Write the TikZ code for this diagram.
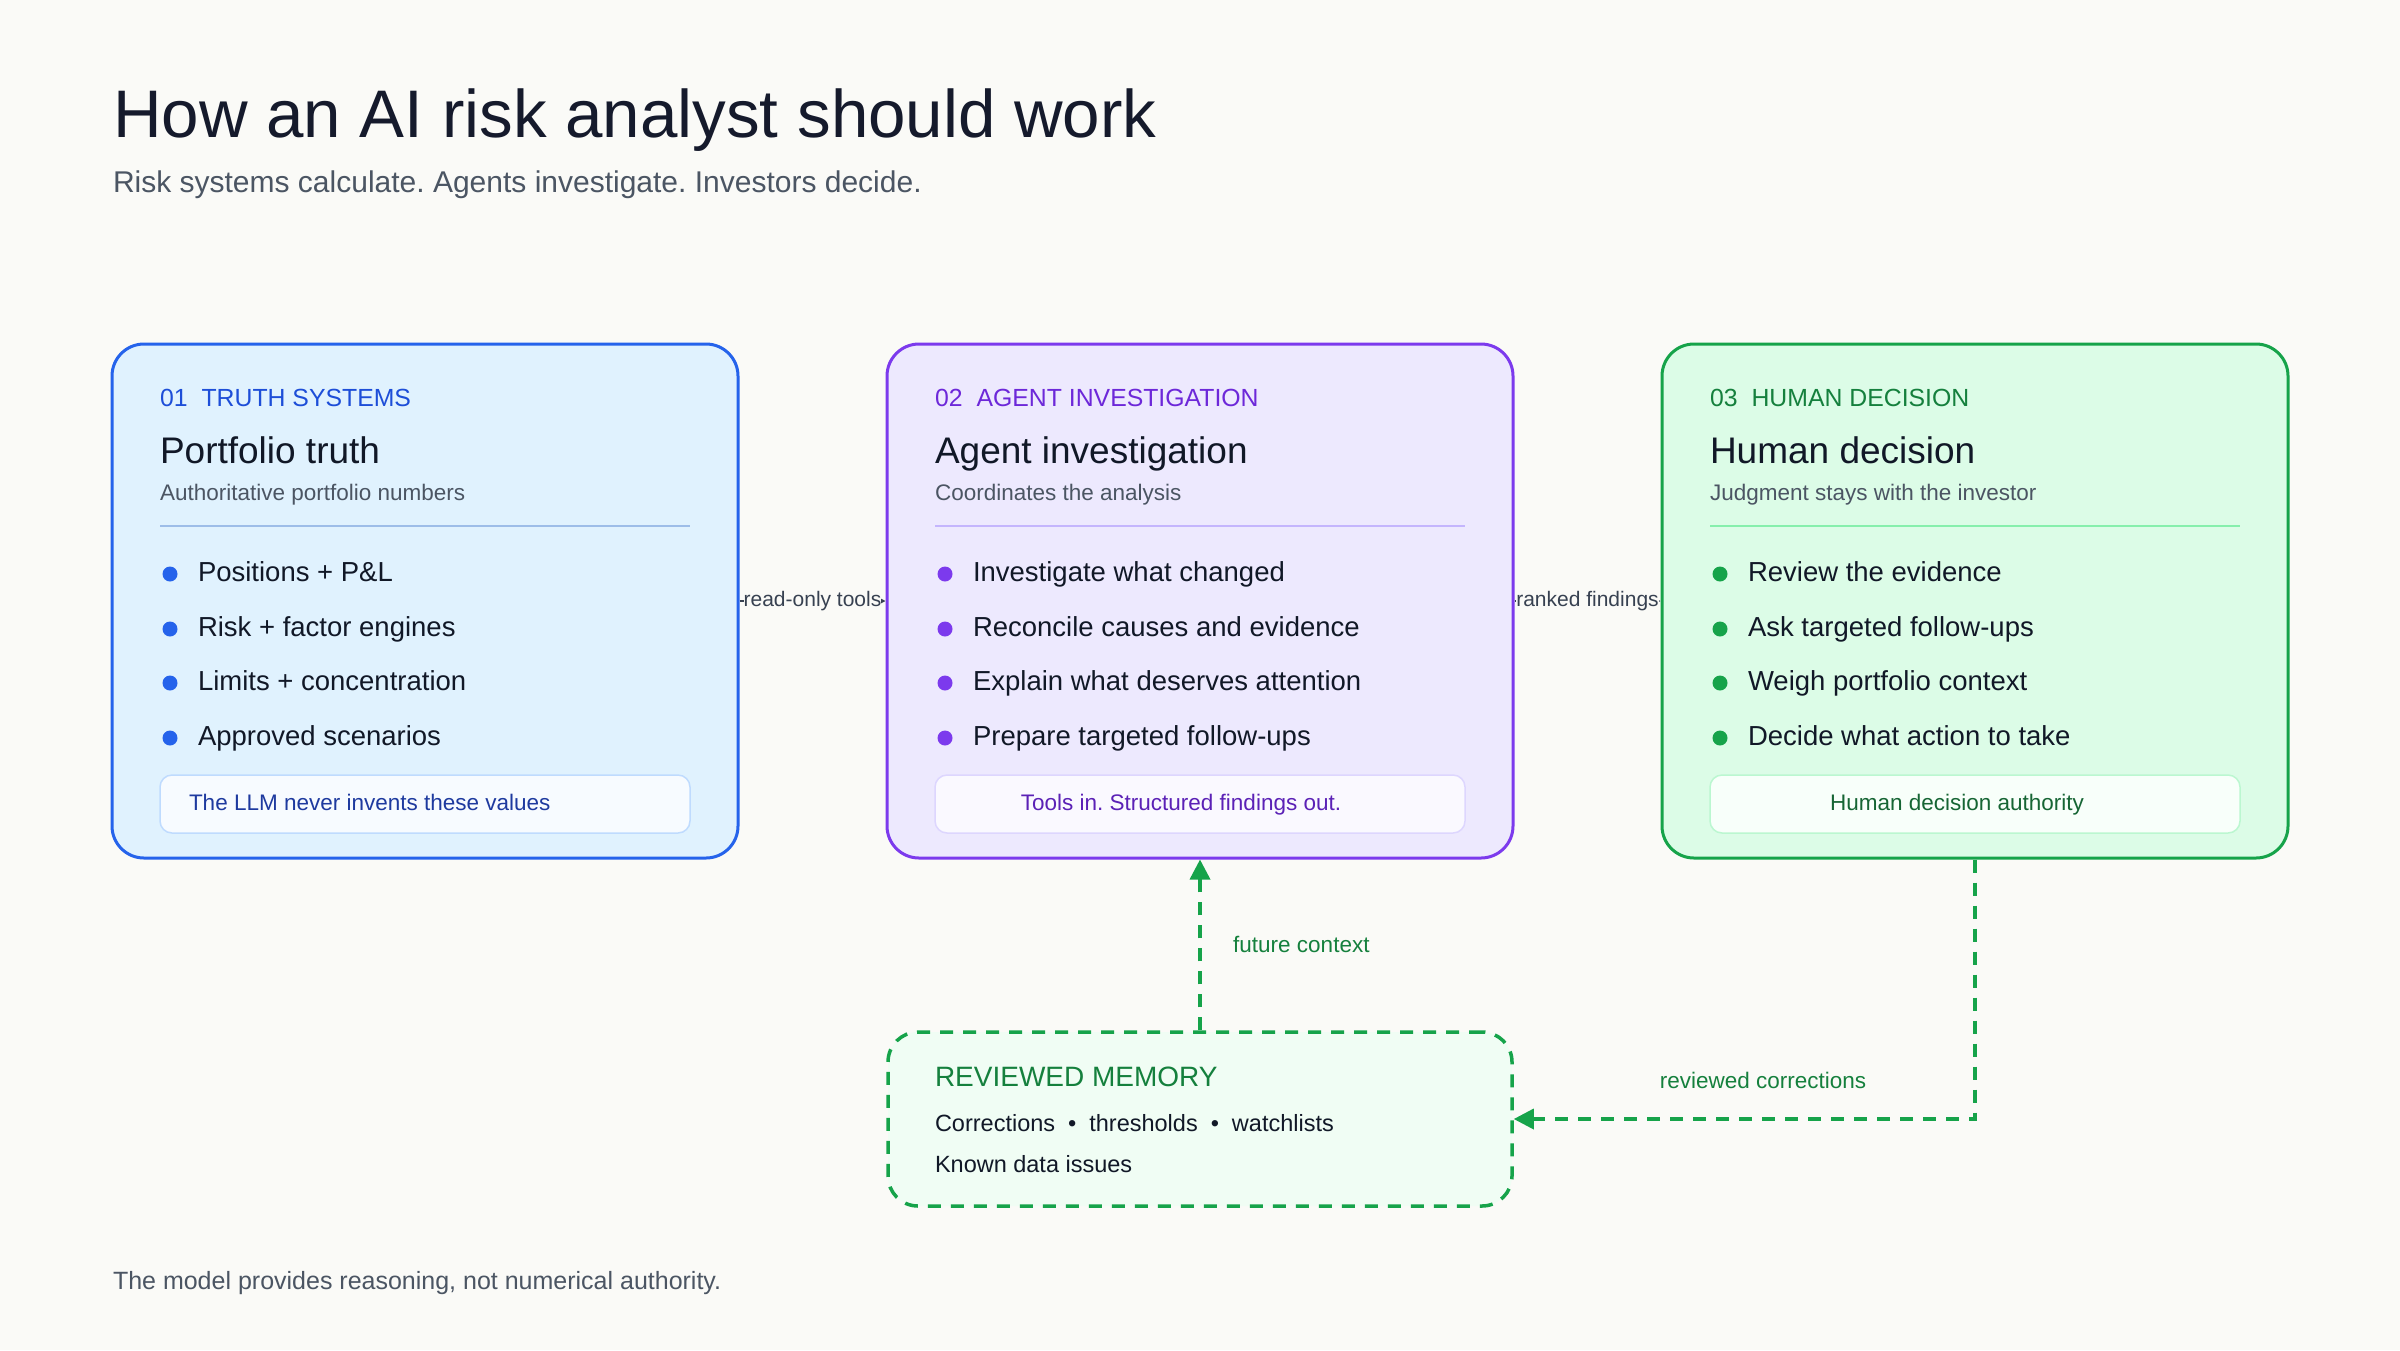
\documentclass[tikz,border=0pt]{standalone}
\usepackage{fontspec}
\setmainfont{Liberation Sans}
\usetikzlibrary{arrows.meta,calc}
\frenchspacing
\definecolor{bg}{HTML}{FAFAF7}
\definecolor{ink}{HTML}{111827}
\definecolor{titleink}{HTML}{151A2C}
\definecolor{grey}{HTML}{4B5563}
\definecolor{lab}{HTML}{374151}
% blue card
\definecolor{cA}{HTML}{2563EB}
\definecolor{fA}{HTML}{E0F2FE}
\definecolor{hA}{HTML}{1D4ED8}
\definecolor{dA}{HTML}{9DBDE8}
\definecolor{iA}{HTML}{BFDBFE}
\definecolor{ifA}{HTML}{F7FBFF}
\definecolor{tA}{HTML}{1E3A9F}
% purple card
\definecolor{cB}{HTML}{7C3AED}
\definecolor{fB}{HTML}{EDE9FE}
\definecolor{hB}{HTML}{6D28D9}
\definecolor{dB}{HTML}{C4B5FD}
\definecolor{iB}{HTML}{DDD6FE}
\definecolor{ifB}{HTML}{FAF9FF}
\definecolor{tB}{HTML}{5B21B6}
% green card
\definecolor{cC}{HTML}{16A34A}
\definecolor{fC}{HTML}{DCFCE7}
\definecolor{hC}{HTML}{15803D}
\definecolor{dC}{HTML}{86EFAC}
\definecolor{iC}{HTML}{BBF7D0}
\definecolor{ifC}{HTML}{F8FFFA}
\definecolor{tC}{HTML}{166534}
\definecolor{fM}{HTML}{F0FDF4}
\newcommand\fsz[1]{\fontsize{#1}{#1}\selectfont}
\newcommand\bul[5]{%
  \node[dotmark,fill=#4] (#1d) at (#2,#3-7) {};
  \node[itemtxt] (#1) at (#2+28,#3) {#5};}
\begin{document}
\begin{tikzpicture}[x=1pt,y=-1pt,
  card/.style 2 args={draw=#1,fill=#2,line width=3pt,rounded corners=32pt,
    minimum width=626pt,minimum height=514pt,inner sep=0pt},
  inbox/.style 2 args={draw=#1,fill=#2,line width=1.5pt,rounded corners=12pt,
    minimum width=530pt,minimum height=58pt,inner sep=0pt},
  txt/.style={anchor=base west,inner sep=0pt,outer sep=0pt},
  hdr/.style={txt,font=\fsz{24.8}},
  ttl/.style={txt,font=\fsz{37},text=ink},
  subt/.style={txt,font=\fsz{22.5},text=grey},
  itemtxt/.style={txt,font=\fsz{27.5},text=ink},
  dotmark/.style={circle,inner sep=0pt,minimum size=15pt,draw=none},
  conn/.style={draw=lab,line width=1.2pt,-{Triangle[length=6pt,width=6pt]}},
  conlab/.style={fill=bg,inner sep=0pt,font=\fsz{21},text=lab},
  greenarrow/.style={draw=cC,line width=3.5pt,dash pattern=on 13pt off 10pt,
    -{Triangle[length=20pt,width=20pt]}},
  glab/.style={inner sep=0pt,font=\fsz{22.5},text=hC},
]
\fill[bg] (0,0) rectangle (2400,1350);
\useasboundingbox (0,0) rectangle (2400,1350);

% title
\node[txt,font=\fsz{67.3},text=titleink] (title) at (113,137) {How an AI risk analyst should work};
\node[txt,font=\fsz{30},text=grey] (subtitle) at (113,192) {Risk systems calculate. Agents investigate. Investors decide.};

% card 1
\node[card={cA}{fA}] (b1) at (425,601) {};
\node[hdr,text=hA] (b1h) at (160,406) {01\hspace{14pt}TRUTH SYSTEMS};
\node[ttl] (b1t) at (160,463) {Portfolio truth};
\node[subt] (b1s) at (160,500) {Authoritative portfolio numbers};
\coordinate (b1l) at (160,526); \coordinate (b1r) at (690,526);
\draw[dA,line width=1.5pt] (b1l) -- (b1r);
\bul{b1a}{170}{581}{cA}{Positions + P\&L}
\bul{b1b}{170}{636}{cA}{Risk + factor engines}
\bul{b1c}{170}{690}{cA}{Limits + concentration}
\bul{b1e}{170}{745}{cA}{Approved scenarios}
\node[inbox={iA}{ifA}] (b1f) at (425,804) {};
\node[txt,font=\fsz{22.5},text=tA] (b1ft) at (189,810) {The LLM never invents these values};

% card 2
\node[card={cB}{fB}] (b2) at (1200,601) {};
\node[hdr,text=hB] (b2h) at (935,406) {02\hspace{14pt}AGENT INVESTIGATION};
\node[ttl] (b2t) at (935,463) {Agent investigation};
\node[subt] (b2s) at (935,500) {Coordinates the analysis};
\coordinate (b2l) at (935,526); \coordinate (b2r) at (1465,526);
\draw[dB,line width=1.5pt] (b2l) -- (b2r);
\bul{b2a}{945}{581}{cB}{Investigate what changed}
\bul{b2b}{945}{636}{cB}{Reconcile causes and evidence}
\bul{b2c}{945}{690}{cB}{Explain what deserves attention}
\bul{b2e}{945}{745}{cB}{Prepare targeted follow-ups}
\node[inbox={iB}{ifB}] (b2f) at (1200,804) {};
\node[anchor=base,inner sep=0pt,font=\fsz{22.5},text=tB] (b2ft) at (1181,810) {Tools in. Structured findings out.};

% card 3
\node[card={cC}{fC}] (b3) at (1975,601) {};
\node[hdr,text=hC] (b3h) at (1710,406) {03\hspace{14pt}HUMAN DECISION};
\node[ttl] (b3t) at (1710,463) {Human decision};
\node[subt] (b3s) at (1710,500) {Judgment stays with the investor};
\coordinate (b3l) at (1710,526); \coordinate (b3r) at (2240,526);
\draw[dC,line width=1.5pt] (b3l) -- (b3r);
\bul{b3a}{1720}{581}{cC}{Review the evidence}
\bul{b3b}{1720}{636}{cC}{Ask targeted follow-ups}
\bul{b3c}{1720}{690}{cC}{Weigh portfolio context}
\bul{b3e}{1720}{745}{cC}{Decide what action to take}
\node[inbox={iC}{ifC}] (b3f) at (1975,804) {};
\node[anchor=base,inner sep=0pt,font=\fsz{22.5},text=tC] (b3ft) at (1957,810) {Human decision authority};

% memory
\node[draw=cC,fill=fM,line width=3.5pt,dash pattern=on 13pt off 10pt,rounded corners=30pt,
  minimum width=624pt,minimum height=174pt,inner sep=0pt] (mem) at (1200,1119) {};
\node[txt,font=\fsz{28},text=hC] (memh) at (935,1086) {REVIEWED MEMORY};
\node[txt,font=\fsz{23.5},text=ink] (mem1) at (935,1131) {Corrections\hspace{13pt}•\hspace{13pt}thresholds\hspace{13pt}•\hspace{13pt}watchlists};
\node[txt,font=\fsz{23.5},text=ink] (mem2) at (935,1172) {Known data issues};

% connectors
\draw[conn] (b1.east) -- node[conlab] (l1) {read-only tools} (b2.west);
\draw[conn] (b2.east) -- node[conlab] (l2) {ranked findings} (b3.west);
\draw[greenarrow] (mem.north) -- (b2.south);
\node[glab,anchor=base west] (l3) at (1233,952) {future context};
\draw[greenarrow] (b3.south) |- (mem.east);
\node[glab,anchor=base] (l4) at (1763,1088) {reviewed corrections};

% footer
\node[txt,font=\fsz{25},text=grey] (footer) at (113,1289) {The model provides reasoning, not numerical authority.};
\end{tikzpicture}
\end{document}
